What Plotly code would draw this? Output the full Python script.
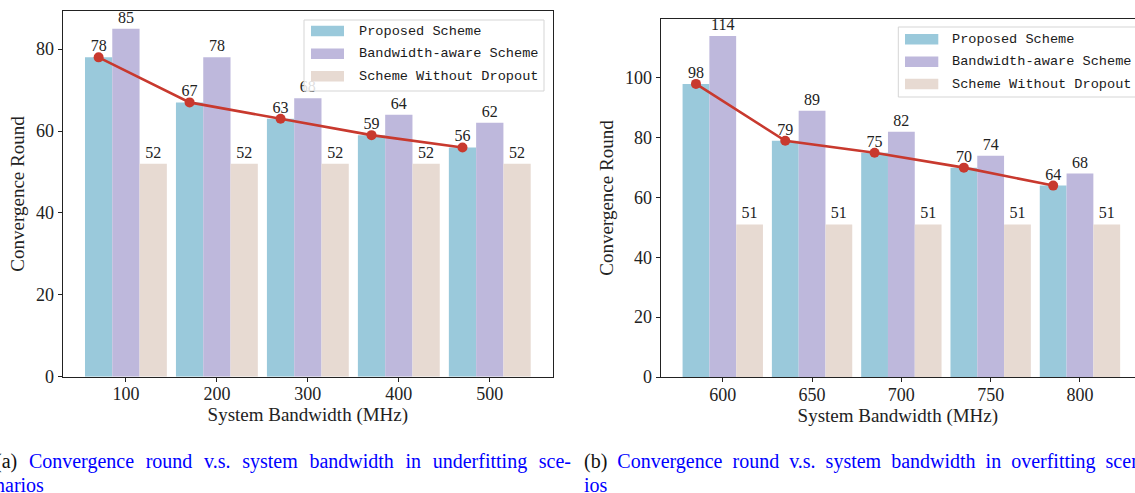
import plotly.graph_objects as go

# ---------------- data ----------------
bandwidth_under = ["100", "200", "300", "400", "500"]
bandwidth_over = ["600", "650", "700", "750", "800"]
series_names = ["Proposed Scheme", "Bandwidth-aware Scheme", "Scheme Without Dropout"]

proposed_under = [78, 67, 63, 59, 56]
aware_under = [85, 78, 68, 64, 62]
nodrop_under = [52, 52, 52, 52, 52]

proposed_over = [98, 79, 75, 70, 64]
aware_over = [114, 89, 82, 74, 68]
nodrop_over = [51, 51, 51, 51, 51]

yticks_under = [0, 20, 40, 60, 80]
yticks_over = [0, 20, 40, 60, 80, 100]

caption_a = ["(a)", "Convergence round v.s. system bandwidth in underfitting sce-", "narios"]
caption_b = ["(b)", "Convergence round v.s. system bandwidth in overfitting scenar-", "ios"]

x_title = "System Bandwidth (MHz)"
y_title = "Convergence Round"

# ---------------- style ----------------
W, H = 1135, 493
bar_colors = ["#9AC9DB", "#BEB8DC", "#E7DAD2"]
line_color = "#C8392E"
SERIF = "Liberation Serif"
MONO = "Liberation Mono"
AX = "#222222"


def fx(p):
    """window pixel x -> paper coordinate"""
    return p / W


def fy(p):
    """window pixel y -> paper coordinate"""
    return 1 - p / H


fig = go.Figure()

panels = [
    (bandwidth_under, [proposed_under, aware_under, nodrop_under], "x", "y"),
    (bandwidth_over, [proposed_over, aware_over, nodrop_over], "x2", "y2"),
]

bar_w = 0.3
for cats, series, xa, ya in panels:
    idx = list(range(len(cats)))
    for name, vals, col in zip(series_names, series, bar_colors):
        fig.add_trace(go.Bar(
            x=idx, y=vals, name=name, marker=dict(color=col, line=dict(width=0)),
            text=[str(v) for v in vals], textposition="outside", cliponaxis=False,
            constraintext="none",
            textfont=dict(family=SERIF, size=16, color="#222222"),
            xaxis=xa, yaxis=ya, showlegend=False,
        ))
    # trend line through the "Proposed Scheme" bars (left bar of each group)
    fig.add_trace(go.Scatter(
        x=[i - bar_w for i in idx], y=series[0], mode="lines+markers",
        line=dict(color=line_color, width=2.6),
        marker=dict(color=line_color, size=10),
        xaxis=xa, yaxis=ya, showlegend=False, cliponaxis=False,
    ))

n = len(bandwidth_under)
xr = [-0.45 - 0.05 * (n - 1 + 0.9), n - 1 + 0.45 + 0.05 * (n - 1 + 0.9)]

axis_common = dict(showgrid=False, zeroline=False, showline=True, linecolor=AX, linewidth=1.2,
                   ticks="outside", ticklen=4, tickwidth=1, tickcolor=AX,
                   tickfont=dict(family=SERIF, size=18, color="#222222"))

fig.update_layout(
    width=W, height=H, template="none",
    margin=dict(l=0, r=0, t=0, b=0),
    paper_bgcolor="white", plot_bgcolor="white",
    barmode="group", bargap=0.1, bargroupgap=0,
    font=dict(family=SERIF, size=18, color="#222222"),
    xaxis=dict(domain=[fx(62.7), fx(553)], range=xr, tickvals=list(range(n)),
               ticktext=bandwidth_under, mirror=True, ticklabelstandoff=-3,
               title=dict(text=x_title, font=dict(family=SERIF, size=19), standoff=2),
               **axis_common),
    yaxis=dict(domain=[fy(376.7), fy(11.3)], range=[0, max(aware_under) * 1.05],
               tickvals=yticks_under, mirror=True,
               title=dict(text=y_title, font=dict(family=SERIF, size=19), standoff=6),
               **axis_common),
    # right panel is cut by the window edge: same data scale, truncated domain
    xaxis2=dict(domain=[fx(660.7), 1.0],
                range=[xr[0], xr[0] + (W - 660.7) / 89.3],
                tickvals=list(range(n)), ticklabelstandoff=-3,
                ticktext=bandwidth_over, mirror=True, anchor="y2",
                title=dict(text=x_title, font=dict(family=SERIF, size=19), standoff=2),
                **axis_common),
    yaxis2=dict(domain=[fy(377), fy(19)], range=[0, max(aware_over) * 1.05],
                tickvals=yticks_over, anchor="x2",
                title=dict(text=y_title, font=dict(family=SERIF, size=19), standoff=6),
                **axis_common),
)

# ---------------- legends (matplotlib-style patches) ----------------
shapes = []
annotations = []
legend_specs = [
    # box left, top, right, bottom, patch x0, x1, text x, row centers (window pixels)
    (304, 20, 544, 91, 311, 344, 356.7, [31, 53.7, 76.3]),
    (898.3, 27, 1150, 97, 905, 938.3, 950, [39.3, 61.7, 84]),
]
for bx0, by0, bx1, by1, px0, px1, tx, rows in legend_specs:
    shapes.append(dict(type="rect", xref="paper", yref="paper",
                       x0=fx(bx0), x1=fx(bx1), y0=fy(by1), y1=fy(by0),
                       line=dict(color="#d5d5d5", width=1), fillcolor="rgba(255,255,255,0.85)",
                       layer="above"))
    for name, col, yc in zip(series_names, bar_colors, rows):
        shapes.append(dict(type="rect", xref="paper", yref="paper",
                           x0=fx(px0), x1=fx(px1), y0=fy(yc + 5.3), y1=fy(yc - 5.3),
                           line=dict(width=0), fillcolor=col, layer="above"))
        annotations.append(dict(text=name, xref="paper", yref="paper", x=fx(tx), y=fy(yc),
                                xanchor="left", yanchor="middle", showarrow=False,
                                font=dict(family=MONO, size=13.6, color="#1a1a1a")))


# ---------------- captions ----------------
def caption(parts, x0, sp):
    first = "<span style='color:#111111'>" + parts[0] + "</span>" + sp + \
            "<span style='color:#0000FF'>" + parts[1].replace(" ", sp) + "</span>"
    annotations.append(dict(text=first, xref="paper", yref="paper", x=fx(x0), y=fy(475),
                            xanchor="left", yanchor="bottom", showarrow=False,
                            font=dict(family=SERIF, size=20)))
    annotations.append(dict(text="<span style='color:#0000FF'>" + parts[2] + "</span>",
                            xref="paper", yref="paper", x=fx(x0), y=fy(498),
                            xanchor="left", yanchor="bottom", showarrow=False,
                            font=dict(family=SERIF, size=20)))


caption(caption_a, -7.5, "\u2002\u200A")
caption(caption_b, 582, "\u2002")

fig.update_layout(shapes=shapes, annotations=annotations)

fig.write_html(
    "out.html",
    config={"displayModeBar": False},
    post_script="document.body.style.margin='0px';document.body.style.overflow='hidden';",
)
